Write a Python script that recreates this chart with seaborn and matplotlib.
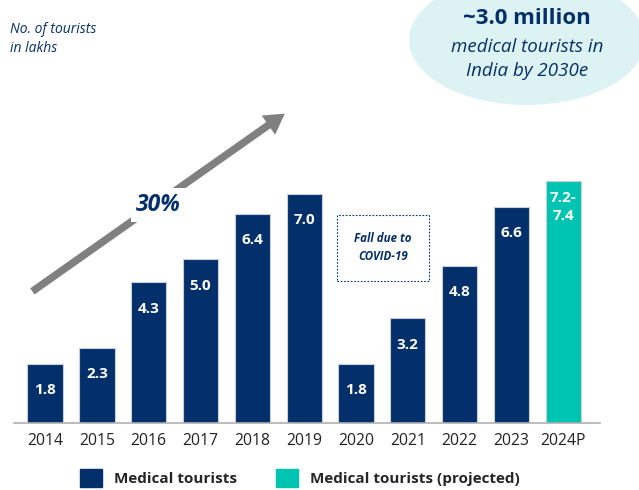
import pandas as pd
import matplotlib.pyplot as plt
import matplotlib.patches as mpatches
import seaborn as sns

years = ["2014", "2015", "2016", "2017", "2018", "2019", "2020", "2021", "2022", "2023", "2024P"]
tourists = [1.8, 2.3, 4.3, 5.0, 6.4, 7.0, 1.8, 3.2, 4.8, 6.6, 7.4]
labels = ["1.8", "2.3", "4.3", "5.0", "6.4", "7.0", "1.8", "3.2", "4.8", "6.6", "7.2-\n7.4"]
kind = ["Medical tourists"] * 10 + ["Medical tourists (projected)"]

navy = "#03306b"
teal = "#00c4b2"

df = pd.DataFrame({"Year": years, "Tourists": tourists, "Kind": kind})

sns.set_theme(style="white")
plt.rcParams["font.family"] = ["Open Sans", "DejaVu Sans"]

fig = plt.figure(figsize=(6.39, 4.9), dpi=100)
# axes: bottom at baseline (y=423 px), top at figure top
ax = fig.add_axes([14 / 639, 67 / 490, 586 / 639, 423 / 490])

sns.barplot(data=df, x="Year", y="Tourists", hue="Kind", dodge=False, width=0.68,
            palette={"Medical tourists": navy, "Medical tourists (projected)": teal},
            saturation=1, edgecolor="#c5cfdc", linewidth=0.8, legend=False, ax=ax)

ytop = 423 / 32.7
ax.set_xlim(-0.6, 10.71)
ax.set_ylim(0, ytop)
ax.set_xlabel("")
ax.set_ylabel("")
ax.set_yticks([])
for s in ["top", "left", "right"]:
    ax.spines[s].set_visible(False)
ax.spines["bottom"].set_color("#b0b0b0")
ax.spines["bottom"].set_linewidth(1.2)
ax.tick_params(axis="x", length=0, pad=7, labelsize=11.3, labelcolor="#222222")

# value labels inside bars
for i, (v, lab) in enumerate(zip(tourists, labels)):
    ax.text(i, v - 0.8, lab, ha="center", va="center", color="white",
            fontsize=11, fontweight="bold", linespacing=1.4)

# growth arrow
ax.annotate("", xy=(4.67, ytop - 112 / 32.7), xytext=(-0.29, ytop - 293 / 32.7),
            arrowprops=dict(arrowstyle="simple,head_length=1.2,head_width=1.4,tail_width=0.45",
                            color="#808080", lw=0))
fig.text(158 / 639, 1 - 205 / 490, "30%", ha="center", va="center", fontsize=16.5,
         fontweight="bold", fontstyle="italic", color=navy,
         bbox=dict(boxstyle="square,pad=0.2", fc="white", ec="none"))

# covid note
fig.text(383 / 639, 1 - 248 / 490, "Fall due to\nCOVID-19", ha="center", va="center",
         fontsize=8.3, fontweight="bold", fontstyle="italic", color=navy, linespacing=1.5,
         bbox=dict(boxstyle="square,pad=1.5", fc="white", ec=navy, ls=(0, (1.5, 1.5)), lw=0.8))

# unit note
fig.text(10 / 639, 1 - 39 / 490, "No. of tourists\nin lakhs", ha="left", va="center",
         fontsize=10, fontstyle="italic", color=navy, linespacing=1.35)

# ellipse callout
ell = mpatches.Ellipse((527 / 639, 1 - 40 / 490), 236 / 639, 130 / 490,
                       transform=fig.transFigure, fc="#ddf3f3", ec="none", zorder=0)
fig.patches.append(ell)
fig.text(527 / 639, 1 - 19 / 490, "~3.0 million", ha="center", va="center",
         fontsize=16, fontweight="bold", color=navy)
fig.text(527 / 639, 1 - 59 / 490, "medical tourists in\nIndia by 2030e", ha="center",
         va="center", fontsize=13.5, fontstyle="italic", color=navy, linespacing=1.4)

# legend
handles = [mpatches.Patch(color=navy, label="Medical tourists"),
           mpatches.Patch(color=teal, label="Medical tourists (projected)")]
fig.legend(handles=handles, loc="center", bbox_to_anchor=(300 / 639, 1 - 478 / 490),
           ncol=2, frameon=False, handlelength=1.4, handleheight=1.4, columnspacing=2.6,
           prop={"weight": "bold", "size": 11})

fig.savefig("out.png", dpi=100)
